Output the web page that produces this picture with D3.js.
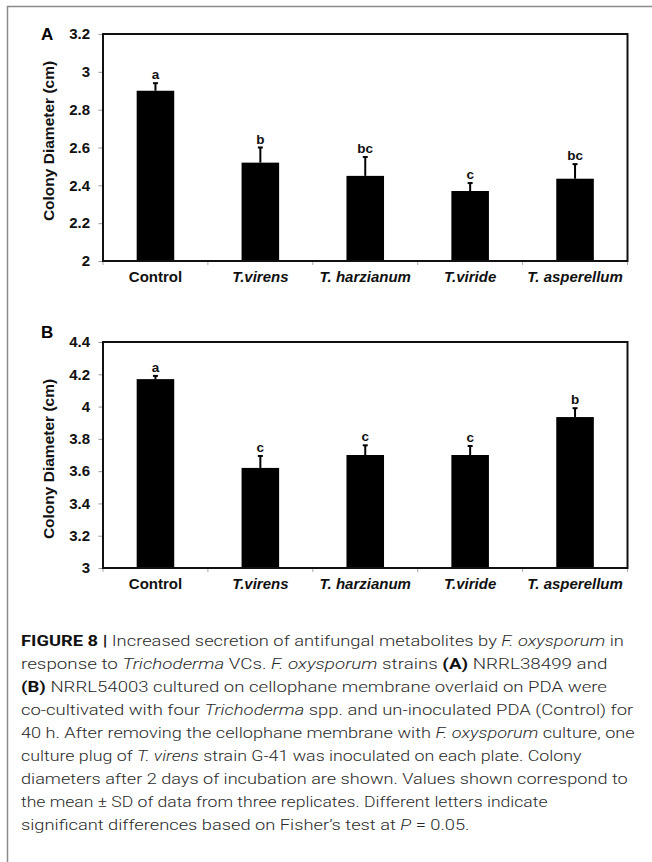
<!DOCTYPE html>
<html>
<head>
<meta charset="utf-8">
<script src="https://cdn.jsdelivr.net/npm/d3@7"></script>
<style>
  html, body { margin: 0; padding: 0; background: #fff; }
  svg { display: block; }
</style>
</head>
<body>
<svg id="fig" width="652" height="862"></svg>
<script>
// Strains tested against F. oxysporum
const strains = ["Control", "T.virens", "T. harzianum", "T.viride", "T. asperellum"];

// Panel A: NRRL38499 colony diameter (cm), mean and SD
const diamA = [2.90, 2.52, 2.45, 2.37, 2.435];
const sdA = [0.04, 0.08, 0.10, 0.042, 0.077];
const lettersA = ["a", "b", "bc", "c", "bc"];
const ticksA = [2, 2.2, 2.4, 2.6, 2.8, 3, 3.2];

// Panel B: NRRL54003 colony diameter (cm), mean and SD
const diamB = [4.17, 3.62, 3.70, 3.70, 3.935];
const sdB = [0.02, 0.074, 0.06, 0.056, 0.055];
const lettersB = ["a", "c", "c", "c", "b"];
const ticksB = [3, 3.2, 3.4, 3.6, 3.8, 4, 4.2, 4.4];

const yTitle = "Colony Diameter (cm)";

const svg = d3.select("#fig");
const FONT = "'Liberation Sans', Arial, Helvetica, sans-serif";

// outer figure frame (left and top edges)
svg.append("path")
  .attr("d", "M7.5,862 V6.5 H652")
  .attr("fill", "none")
  .attr("stroke", "#8a8a8a")
  .attr("stroke-width", 1.5);

const left = 103, right = 627.5;

function drawPanel(cfg) {
  const g = svg.append("g");
  const x = d3.scaleBand()
    .domain(strains)
    .range([left, right])
    .paddingInner(0.642)
    .paddingOuter(0.321);
  const y = d3.scaleLinear()
    .domain([cfg.ticks[0], cfg.ticks[cfg.ticks.length - 1]])
    .range([cfg.bottom, cfg.top]);

  // y axis ticks and labels
  const ya = g.append("g")
    .attr("transform", `translate(${left},0)`)
    .call(d3.axisLeft(y).tickValues(cfg.ticks).tickSize(4.5).tickPadding(8.5).tickFormat(d => String(d)));
  ya.select(".domain").remove();
  ya.selectAll(".tick line").attr("stroke", "#999").attr("stroke-width", 1);
  ya.selectAll(".tick text")
    .attr("fill", "#111")
    .style("font-family", FONT)
    .style("font-weight", "bold")
    .style("font-size", "15px");

  // x axis labels
  const xa = g.append("g")
    .attr("transform", `translate(0,${cfg.bottom})`)
    .call(d3.axisBottom(x).tickSize(0).tickPadding(10));
  xa.select(".domain").remove();
  xa.selectAll(".tick text")
    .attr("fill", "#111")
    .style("font-family", FONT)
    .style("font-weight", "bold")
    .style("font-size", "15px")
    .style("font-style", d => d === "Control" ? "normal" : "italic");

  // category boundary ticks under the axis
  const bounds = d3.range(strains.length + 1).map(i => left + i * x.step());
  g.selectAll("line.bt").data(bounds).join("line")
    .attr("class", "bt")
    .attr("x1", d => d).attr("x2", d => d)
    .attr("y1", cfg.bottom).attr("y2", cfg.bottom + 4)
    .attr("stroke", "#aaa").attr("stroke-width", 1);

  // bars
  const rows = strains.map((s, i) => ({ s, v: cfg.values[i], sd: cfg.sd[i], l: cfg.letters[i] }));
  g.selectAll("rect.bar").data(rows).join("rect")
    .attr("class", "bar")
    .attr("x", d => x(d.s))
    .attr("width", x.bandwidth())
    .attr("y", d => y(d.v))
    .attr("height", d => cfg.bottom - y(d.v))
    .attr("fill", "#000");

  // upper error bars
  g.selectAll("line.err").data(rows).join("line")
    .attr("class", "err")
    .attr("x1", d => x(d.s) + x.bandwidth() / 2)
    .attr("x2", d => x(d.s) + x.bandwidth() / 2)
    .attr("y1", d => y(d.v))
    .attr("y2", d => y(d.v + d.sd))
    .attr("stroke", "#000").attr("stroke-width", 2);
  g.selectAll("line.cap").data(rows).join("line")
    .attr("class", "cap")
    .attr("x1", d => x(d.s) + x.bandwidth() / 2 - 2.5)
    .attr("x2", d => x(d.s) + x.bandwidth() / 2 + 2.5)
    .attr("y1", d => y(d.v + d.sd))
    .attr("y2", d => y(d.v + d.sd))
    .attr("stroke", "#000").attr("stroke-width", 2);

  // significance letters
  g.selectAll("text.sig").data(rows).join("text")
    .attr("class", "sig")
    .attr("x", d => x(d.s) + x.bandwidth() / 2)
    .attr("y", d => y(d.v + d.sd) - 4)
    .attr("text-anchor", "middle")
    .attr("fill", "#111")
    .style("font-family", FONT)
    .style("font-weight", "bold")
    .style("font-size", "13.5px")
    .text(d => d.l);

  // plot frame
  g.append("rect")
    .attr("x", left).attr("y", cfg.top)
    .attr("width", right - left).attr("height", cfg.bottom - cfg.top)
    .attr("fill", "none")
    .attr("stroke", "#111").attr("stroke-width", 2);

  // axis title
  g.append("text")
    .attr("transform", `translate(48.5,${cfg.titleY}) rotate(-90)`)
    .attr("text-anchor", "middle")
    .attr("dominant-baseline", "central")
    .attr("fill", "#111")
    .style("font-family", FONT)
    .style("font-weight", "bold")
    .style("font-size", "15.5px")
    .text(yTitle);

  // panel letter
  g.append("text")
    .attr("x", 41).attr("y", cfg.letterY)
    .attr("fill", "#000")
    .style("font-family", FONT)
    .style("font-weight", "bold")
    .style("font-size", "17px")
    .text(cfg.name);
}

drawPanel({ name: "A", top: 34, bottom: 261, values: diamA, sd: sdA, letters: lettersA, ticks: ticksA, titleY: 141, letterY: 40 });
drawPanel({ name: "B", top: 342, bottom: 568, values: diamB, sd: sdB, letters: lettersB, ticks: ticksB, titleY: 459, letterY: 338 });

// caption, one entry per line: [text, style] segments, plus right edge of the line
const captionLines = [
  [[["FIGURE 8 |", "b"], [" Increased secretion of antifungal metabolites by ", ""], ["F. oxysporum", "i"], [" in", ""]], 624],
  [[["response to ", ""], ["Trichoderma", "i"], [" VCs. ", ""], ["F. oxysporum", "i"], [" strains ", ""], ["(A)", "b"], [" NRRL38499 and", ""]], 608],
  [[["(B)", "b"], [" NRRL54003 cultured on cellophane membrane overlaid on PDA were", ""]], 607],
  [[["co-cultivated with four ", ""], ["Trichoderma", "i"], [" spp. and un-inoculated PDA (Control) for", ""]], 634],
  [[["40 h. After removing the cellophane membrane with ", ""], ["F. oxysporum", "i"], [" culture, one", ""]], 635],
  [[["culture plug of ", ""], ["T. virens", "i"], [" strain G-41 was inoculated on each plate. Colony", ""]], 582],
  [[["diameters after 2 days of incubation are shown. Values shown correspond to", ""]], 628],
  [[["the mean \u00b1 SD of data from three replicates. Different letters indicate", ""]], 548],
  [[["significant differences based on Fisher\u2019s test at ", ""], ["P", "i"], [" = 0.05.", ""]], 470]
];

const cap = svg.append("g");
const capLeft = 21, capTop = 645.5, capStep = 23;
captionLines.forEach(([segs, rightEdge], i) => {
  const t = cap.append("text")
    .attr("x", 0)
    .attr("y", 0)
    .attr("fill", "#2a2a2a")
    .style("font-family", "Roboto, 'Liberation Sans', Arial, sans-serif")
    .style("font-weight", "300")
    .style("font-size", "15.5px")
    .style("white-space", "pre");
  segs.forEach(([txt, st]) => {
    const ts = t.append("tspan").text(txt);
    if (st === "b") ts.style("font-weight", "bold").attr("fill", "#111");
    if (st === "i") ts.style("font-style", "italic");
  });
  // stretch each line horizontally so it spans its measured width
  const natural = t.node().getComputedTextLength();
  const sx = natural > 0 ? (rightEdge - capLeft) / natural : 1;
  t.attr("transform", `translate(${capLeft},${capTop + i * capStep}) scale(${sx},1)`);
});
</script>
</body>
</html>
